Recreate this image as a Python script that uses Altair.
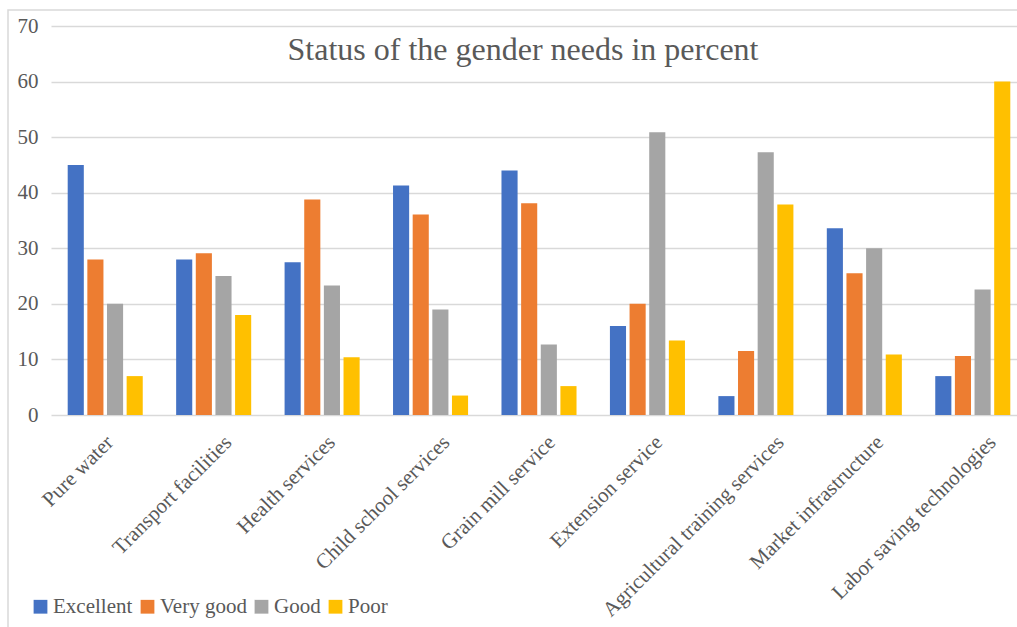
import altair as alt
import pandas as pd

# Survey results: share of respondents rating each gender need, in percent
categories = [
    "Pure water",
    "Transport facilities",
    "Health services",
    "Child school services",
    "Grain mill service",
    "Extension service",
    "Agricultural training services",
    "Market infrastructure",
    "Labor saving technologies",
]
ratings = ["Excellent", "Very good", "Good", "Poor"]
excellent = [45, 28, 27.5, 41.3, 44, 16, 3.4, 33.6, 7]
very_good = [28, 29.1, 38.8, 36.1, 38.1, 20, 11.5, 25.5, 10.6]
good = [20, 25, 23.3, 19, 12.7, 50.9, 47.3, 30, 22.6]
poor = [7, 18, 10.4, 3.5, 5.2, 13.4, 37.9, 10.9, 60]
y_ticks = [0, 10, 20, 30, 40, 50, 60, 70]
colors = ["#4472C4", "#ED7D31", "#A5A5A5", "#FFC000"]

series = {"Excellent": excellent, "Very good": very_good, "Good": good, "Poor": poor}
rows = []
for rating, values in series.items():
    for cat, v in zip(categories, values):
        rows.append({"need": cat, "rating": rating, "percent": v})
df = pd.DataFrame(rows)

FONT = "Liberation Serif"
TEXT = "#595959"
GRID = "#D9D9D9"

bars = alt.Chart(df).mark_bar().encode(
    x=alt.X(
        "need:N",
        sort=categories,
        title=None,
        scale=alt.Scale(range=[0, 976], paddingInner=0.308, paddingOuter=0.154),
        axis=alt.Axis(
            labelAngle=-45,
            labelAlign="right",
            labelBaseline="middle",
            labelFont=FONT,
            labelFontSize=21,
            labelColor=TEXT,
            labelPadding=24,
            # longer rotated labels sit a little further right
            labelOffset=alt.ExprRef("-5 + length(datum.label)"),
            labelLimit=400,
            ticks=False,
            domain=False,
            grid=False,
        ),
    ),
    xOffset=alt.XOffset(
        "rating:N", sort=ratings, scale=alt.Scale(paddingInner=0.18, paddingOuter=0)
    ),
    y=alt.Y(
        "percent:Q",
        title=None,
        scale=alt.Scale(domain=[0, 70], nice=False),
        axis=alt.Axis(
            values=y_ticks,
            labelFont=FONT,
            labelFontSize=21,
            labelColor=TEXT,
            labelPadding=13,
            ticks=False,
            domain=False,
            gridColor=GRID,
            gridWidth=1.5,
        ),
    ),
    color=alt.Color(
        "rating:N",
        sort=ratings,
        scale=alt.Scale(domain=ratings, range=colors),
        legend=alt.Legend(
            title=None,
            orient="none",
            direction="horizontal",
            legendX=-21,
            legendY=570,
            symbolType="square",
            symbolSize=190,
            symbolStrokeWidth=0,
            symbolOpacity=1,
            labelFont=FONT,
            labelFontSize=21,
            labelColor=TEXT,
            labelOffset=2,
            columnPadding=4,
            labelLimit=300,
            padding=0,
        ),
    ),
)

# light outer frame of the chart area
frame = alt.Chart(alt.Data(values=[{}])).mark_rect(
    fill="transparent", stroke=GRID, strokeWidth=1.5
).encode(
    x=alt.value(-43),
    x2=alt.value(1300),
    y=alt.value(-16),
    y2=alt.value(800),
)

chart = (
    alt.layer(frame, bars)
    .properties(
        width=966,
        height=389,
        autosize=alt.AutoSizeParams(type="none"),
        padding={"left": 51, "top": 26, "right": 0, "bottom": 212},
        background="white",
        title=alt.Title(
            "Status of the gender needs in percent",
            font=FONT,
            fontSize=32,
            fontWeight="normal",
            color=TEXT,
            anchor="middle",
            baseline="alphabetic",
            offset=0,
            dx=-11,
            dy=83,
        ),
    )
    .configure_view(stroke=None)
)

chart.save("out.html", embed_options={"renderer": "svg", "actions": False})
